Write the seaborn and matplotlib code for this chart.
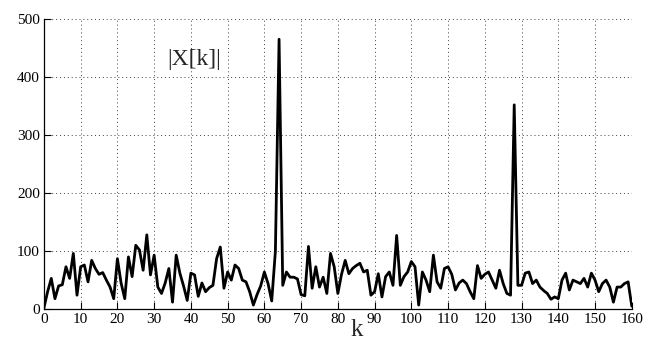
import numpy as np
import pandas as pd
import matplotlib
matplotlib.use("Agg")
import matplotlib.pyplot as plt
import seaborn as sns

k_values = list(range(161))
magnitude = [
    2, 30, 53, 18, 40, 42, 73, 53, 96, 24,
    73, 76, 47, 84, 70, 60, 63, 50, 38, 18,
    87, 45, 18, 90, 56, 110, 102, 67, 128, 59,
    93, 38, 27, 45, 70, 12, 93, 62, 40, 15,
    62, 59, 22, 45, 30, 37, 41, 87, 107, 36,
    64, 50, 76, 70, 50, 47, 30, 7, 25, 40,
    64, 44, 14, 100, 465, 41, 64, 55, 55, 52,
    25, 23, 108, 36, 73, 38, 55, 27, 96, 73,
    27, 60, 84, 61, 70, 75, 79, 64, 67, 24,
    30, 61, 21, 56, 64, 41, 127, 41, 56, 64,
    82, 73, 7, 64, 50, 30, 93, 47, 36, 70,
    73, 60, 33, 45, 50, 44, 30, 18, 75, 53,
    60, 64, 50, 36, 67, 44, 27, 24, 352, 41,
    41, 62, 64, 44, 50, 38, 32, 27, 17, 21,
    18, 50, 62, 33, 50, 47, 44, 53, 38, 62,
    50, 30, 44, 50, 38, 12, 38, 38, 44, 47,
    5,
]
x_ticks = list(range(0, 161, 10))
y_ticks = list(range(0, 501, 100))

df = pd.DataFrame({"k": k_values, "X": magnitude})

sns.set_style("ticks")
plt.rcParams["font.family"] = ["Liberation Serif", "DejaVu Serif"]

fig = plt.figure(figsize=(6.46, 3.45), dpi=100)
ax = fig.add_axes([0.068, 0.104, 0.91, 0.841])

sns.lineplot(data=df, x="k", y="X", ax=ax, color="black", linewidth=2.0)

ax.set_xlim(0, 160)
ax.set_ylim(0, 500)
ax.set_xticks(x_ticks)
ax.set_yticks(y_ticks)
ax.tick_params(direction="in", length=5, width=0.8, labelsize=11, pad=3, colors="black")
ax.grid(True, linestyle=(0, (1, 3)), color="black", linewidth=0.7, alpha=0.75)
for s in ["top", "right"]:
    ax.spines[s].set_visible(False)
for s in ["left", "bottom"]:
    ax.spines[s].set_color("black")
    ax.spines[s].set_linewidth(0.9)

ax.set_ylabel("")
ax.set_xlabel("k", fontsize=18)
ax.xaxis.set_label_coords(0.532, -0.035)
ax.text(33.5, 430, "|X[k]|", fontsize=17, ha="left", va="center")

fig.savefig("out.png", dpi=100)
